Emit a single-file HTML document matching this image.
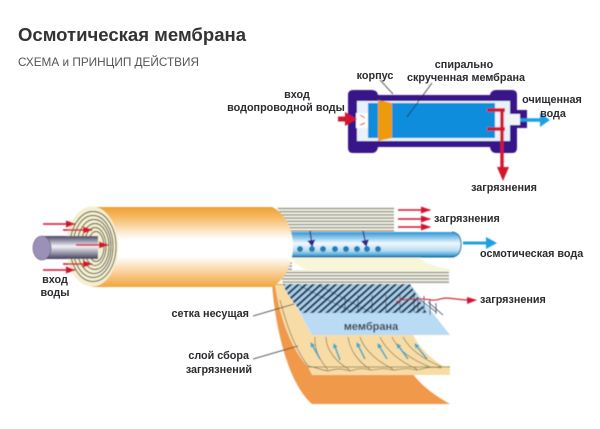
<!DOCTYPE html>
<html><head><meta charset="utf-8"><style>
html,body{margin:0;padding:0;background:#fff;width:600px;height:429px;overflow:hidden}
svg{display:block}
text{font-family:"Liberation Sans",sans-serif}
.l{font-weight:bold;font-size:10.8px;fill:#2b2b30}
</style></head><body>
<svg width="600" height="429" viewBox="0 0 600 429" xmlns="http://www.w3.org/2000/svg">
<defs>
<linearGradient id="or" x1="0" y1="0" x2="0" y2="1"><stop offset="0" stop-color="#f0a030"/><stop offset=".12" stop-color="#f6b860"/><stop offset=".4" stop-color="#fff"/><stop offset=".62" stop-color="#fff"/><stop offset=".85" stop-color="#f8c888"/><stop offset="1" stop-color="#f0a540"/></linearGradient>
<linearGradient id="pp" x1="0" y1="0" x2="0" y2="1"><stop offset="0" stop-color="#4a4668"/><stop offset=".45" stop-color="#f2f2f6"/><stop offset="1" stop-color="#45405f"/></linearGradient>
<linearGradient id="bt" x1="0" y1="0" x2="0" y2="1"><stop offset="0" stop-color="#2a97d8"/><stop offset=".45" stop-color="#f0f8fd"/><stop offset=".75" stop-color="#b5dcf3"/><stop offset="1" stop-color="#1e8ccc"/></linearGradient>
<pattern id="gl" width="4" height="3.2" patternUnits="userSpaceOnUse"><rect width="4" height="3.2" fill="#eeeee2"/><rect width="4" height="1" fill="#77776e"/></pattern>
<pattern id="mesh" width="6" height="5" patternUnits="userSpaceOnUse" patternTransform="rotate(-42)"><rect width="6" height="5" fill="#a9d2ea"/><rect width="6" height="2.100" fill="#20344f"/></pattern>
<filter id="b"><feGaussianBlur stdDeviation=".4"/></filter>
<marker id="rh" markerUnits="userSpaceOnUse" markerWidth="10" markerHeight="7" refX="9" refY="3.500" orient="auto"><path d="M0 0L10 3.500L0 7z" fill="#d3122e"/></marker>
<marker id="dh" markerUnits="userSpaceOnUse" markerWidth="7" markerHeight="8" refX="5" refY="4" orient="auto"><path d="M0 0L7 4L0 8z" fill="#33208c"/></marker>
<marker id="th" markerUnits="userSpaceOnUse" markerWidth="5" markerHeight="5" refX="4" refY="2.500" orient="auto"><path d="M0 0L5 2.500L0 5z" fill="#35a8c8"/></marker>
</defs>

<text x="18" y="41" font-size="18" font-weight="bold" fill="#333" textLength="228" lengthAdjust="spacingAndGlyphs">Осмотическая мембрана</text>
<text x="18" y="66" font-size="12" fill="#555" textLength="181" lengthAdjust="spacingAndGlyphs">СХЕМА и ПРИНЦИП ДЕЙСТВИЯ</text>

<g filter="url(#b)">
<!-- top schematic -->
<path d="M353 90H372Q377 90 378 95H490Q491 90 496 90H512Q517 90 517 95V110H527V128H517V148Q517 153 512 153H496Q491 153 490 147H378Q377 153 372 153H353Q348 153 348 148V95Q348 90 353 90Z" fill="#37178a"/>
<rect x="357" y="101" width="153" height="40" fill="#e9f1fa"/>
<rect x="368" y="103" width="127" height="35" fill="#0f8ddb"/>
<path d="M378 100L392 103V138L378 141Z" fill="#ee9a10"/>
<rect x="356" y="113" width="12" height="15" fill="#fff"/>
<path d="M360 115l5 3M360 125l5-2" stroke="#d33" stroke-width="1"/>
<rect x="495" y="114" width="25" height="11" fill="#f1f5f8"/>
<path d="M338 119H347" stroke="#d3122e" stroke-width="5"/>
<path d="M345 112L357 119L345 126Z" fill="#d3122e"/>
<path d="M487 110H505M487 129H505M502 109V168" stroke="#d3122e" stroke-width="3.400" fill="none"/>
<path d="M497 167H509L503 181Z" fill="#d3122e"/>
<path d="M520 120H541" stroke="#1aa0e2" stroke-width="3.500"/>
<path d="M540 113L550 120L540 127Z" fill="#1aa0e2"/>
<path d="M380 80L393 94M432 83L407 117" stroke="#222" stroke-width=".7"/>

<!-- orange base -->
<path d="M272 284C276 335 290 385 312 404H450C432 394 420 384 413 374L300 340L283 284Z" fill="#f0994c"/>
<!-- beige -->
<path d="M275 285C280 320 292 350 308 367L312 375H450V366H443C430 358 420 348 413 335H312L284 285Z" fill="#f8dca6"/>
<path d="M308 366C318 368 322 370 328 371C332 370 338 367 350 371C354 370 360 367 371 370C376 370 382 367 393 370C398 370 405 367 417 370C422 369 430 366 441 368" fill="none" stroke="#7a6a48" stroke-width=".7"/>
<path d="M315 337C314 350 320 360 328 370M326 337C326 350 336 362 350 370M348 337C350 350 358 362 370 369M360 337C364 350 378 362 393 369M380 337C386 350 400 362 417 369M392 337C398 350 412 360 430 367M403 337C410 350 425 360 442 367" fill="none" stroke="#7a6a48" stroke-width=".7"/>
<path d="M280 300C288 330 296 350 308 366" fill="none" stroke="#7a6a48" stroke-width=".7"/>
<path d="M308 367H450" stroke="#8a7a50" stroke-width=".7"/>
<g stroke="#35a8c8" stroke-width="1.600" fill="none">
<path d="M320 359L311 343" marker-end="url(#th)"/>
<path d="M340 360L334 344" marker-end="url(#th)"/>
<path d="M365 359L357 343" marker-end="url(#th)"/>
<path d="M387 359L378 344" marker-end="url(#th)"/>
<path d="M408 359L397 344" marker-end="url(#th)"/>
<path d="M427 359L415 344" marker-end="url(#th)"/>
</g>
<!-- membrane -->
<path d="M284 284H410L450 335H312Z" fill="#b9dcf4"/>
<!-- mesh -->
<path d="M283 284H410L427 313H302C294 303 287 295 283 284Z" fill="url(#mesh)"/>
<path d="M300 286L352 312M320 286L370 312M345 295V312M358 295V312M372 295V312M386 295V312M400 295V312M414 292V312" stroke="#20344f" stroke-width=".6" fill="none"/>
<path d="M424 296V313M418 297V311M430 299V315M436 303V314M428 302L443 315M418 298L436 312" stroke="#20344f" stroke-width=".7" fill="none"/>
<text x="371" y="330" text-anchor="middle" font-weight="bold" font-size="11" fill="#33394a">мембрана</text>

<!-- grey stack -->
<path d="M277 207H394V233H290Z" fill="url(#gl)"/>
<path d="M278 262H292V270H449V284H283Z" fill="url(#gl)"/>
<path d="M292 257H420Q425 265 450 269V271H310Q300 268 292 260Z" fill="#f8f6d8"/>

<!-- blue tube -->
<path d="M290 232H452Q461 233 461 244.500Q461 256 452 257H290Z" fill="url(#bt)"/>
<path d="M452 232Q461 233 461 244.500Q461 256 452 257" fill="none" stroke="#1c6d9e" stroke-width="1"/>
<rect x="290" y="256" width="164" height="1.500" fill="#1a6ea6"/>
<g fill="#1f7fb8"><circle cx="300" cy="249" r="3"/><circle cx="312" cy="249" r="3"/><circle cx="323" cy="249" r="3"/><circle cx="335" cy="249" r="3"/><circle cx="346" cy="249" r="3"/><circle cx="357" cy="249" r="3"/><circle cx="367" cy="249" r="3"/><circle cx="378" cy="249" r="3"/></g>
<path d="M310 231L312 245" stroke="#33208c" stroke-width="1.200" marker-end="url(#dh)"/>
<path d="M363 231L366 245" stroke="#33208c" stroke-width="1.200" marker-end="url(#dh)"/>

<!-- orange cylinder -->
<path d="M92 207H272C284 212 293 228 293 246C293 264 284 281 272 287H92Z" fill="url(#or)"/>
<ellipse cx="92" cy="246.500" rx="26" ry="40" fill="#f4efcf"/>
<g fill="none" stroke="#3a3a36" stroke-width=".9">
<ellipse cx="93" cy="246.500" rx="23" ry="35"/>
<ellipse cx="93" cy="246.500" rx="20" ry="31"/>
<ellipse cx="94" cy="246.500" rx="17" ry="27"/>
<ellipse cx="95" cy="246.500" rx="14" ry="23"/>
<ellipse cx="95" cy="246.500" rx="11" ry="19"/>
<ellipse cx="96" cy="246.500" rx="8" ry="15"/>
</g>
<!-- pipe -->
<path d="M42 236H98V259H42Z" fill="url(#pp)"/>
<ellipse cx="42" cy="248" rx="9" ry="12" fill="#9b90b6" stroke="#5c5678" stroke-width=".6"/>
<g stroke="#d3122e" stroke-width="1.400" fill="none">
<path d="M76 245H108" marker-end="url(#rh)"/>
<path d="M43 224H75" marker-end="url(#rh)"/>
<path d="M63 230H92" marker-end="url(#rh)"/>
<path d="M43 270H75" marker-end="url(#rh)"/>
<path d="M63 264H92" marker-end="url(#rh)"/>
<!-- right arrows -->
<path d="M398 210H430" marker-end="url(#rh)"/>
<path d="M398 219H430" marker-end="url(#rh)"/>
<path d="M398 227H430" marker-end="url(#rh)"/>
<path d="M396 302C404 298 410 300 418 299C426 298 432 302 440 299C450 296 456 301 476 300" stroke-width="1.100" marker-end="url(#rh)"/>
</g>
<path d="M463 243H487" stroke="#1aa0e2" stroke-width="3"/>
<path d="M486 237L497 243L486 249Z" fill="#1aa0e2"/>
<path d="M253 316L294 304M253 359L298 346" stroke="#333" stroke-width=".7"/>
</g>

<text class="l" x="297" y="98" text-anchor="middle">вход</text>
<text class="l" x="286" y="111" text-anchor="middle">водопроводной воды</text>
<text class="l" x="375" y="79" text-anchor="middle">корпус</text>
<text class="l" x="464" y="68" text-anchor="middle">спирально</text>
<text class="l" x="466" y="81" text-anchor="middle">скрученная мембрана</text>
<text class="l" x="552" y="103" text-anchor="middle">очищенная</text>
<text class="l" x="553" y="117" text-anchor="middle">вода</text>
<text class="l" x="504" y="191" text-anchor="middle">загрязнения</text>
<text class="l" x="434" y="222">загрязнения</text>
<text class="l" x="480" y="257">осмотическая вода</text>
<text class="l" x="480" y="303">загрязнения</text>
<text class="l" x="55" y="283" text-anchor="middle">вход</text>
<text class="l" x="55" y="296" text-anchor="middle">воды</text>
<text class="l" x="249" y="317" text-anchor="end">сетка несущая</text>
<text class="l" x="249" y="359" text-anchor="end">слой сбора</text>
<text class="l" x="252" y="373" text-anchor="end">загрязнений</text>
</svg>
</body></html>
